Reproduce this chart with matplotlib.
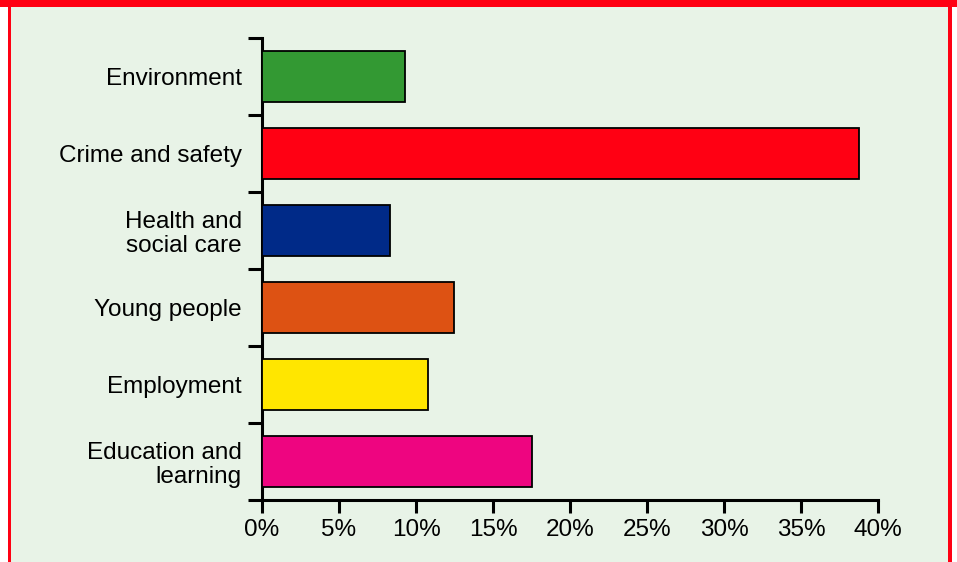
import matplotlib
matplotlib.use("Agg")
import matplotlib.pyplot as plt
from matplotlib.patches import Rectangle
from matplotlib.font_manager import FontProperties

categories = ["Environment", "Crime and safety", "Health and\nsocial care",
              "Young people", "Employment", "Education and\nlearning"]
values = [9.3, 38.75, 8.3, 12.45, 10.8, 17.55]
colors = ["#339933", "#FF0013", "#002A88", "#DD5213", "#FFE600", "#EE0580"]
xticks = [0, 5, 10, 15, 20, 25, 30, 35, 40]
xticklabels = ["0%", "5%", "10%", "15%", "20%", "25%", "30%", "35%", "40%"]

fp = FontProperties(family=["Liberation Sans", "DejaVu Sans"], size=17.5)

W, H = 957, 562
fig = plt.figure(figsize=(W / 100, H / 100), dpi=100)
fig.patch.set_facecolor("white")

# background panel and red frame
bg = "#E8F3E7"
red = "#FF0013"
fig.patches.append(Rectangle((9 / W, 0), (950 - 9) / W, 1, transform=fig.transFigure,
                             facecolor=bg, edgecolor="none", zorder=-3))
fig.patches.append(Rectangle((0, 1 - 7 / H), 1, 7 / H, transform=fig.transFigure,
                             facecolor=red, edgecolor="none", zorder=-2))
fig.patches.append(Rectangle((8 / W, 0), 3 / W, 1, transform=fig.transFigure,
                             facecolor=red, edgecolor="none", zorder=-2))
fig.patches.append(Rectangle((948 / W, 0), 4 / W, 1, transform=fig.transFigure,
                             facecolor=red, edgecolor="none", zorder=-2))

ax = fig.add_axes([262 / W, (H - 500) / H, 616 / W, 462 / H])
ax.set_facecolor("none")
ax.set_zorder(5)

n = len(categories)
ypos = list(range(n))[::-1]  # first category on top
ax.barh(ypos, values, height=0.67, color=colors, edgecolor="black", linewidth=1.3, zorder=3)
ax.set_xlim(0, 40)
ax.set_ylim(-0.5, n - 0.5)

ax.set_xticks(xticks)
ax.set_xticklabels(xticklabels, fontproperties=fp)
ax.set_yticks(ypos)
ax.set_yticklabels(categories, fontproperties=fp, linespacing=1.1)
ax.set_yticks([i - 0.5 for i in range(n + 1)], minor=True)

ax.tick_params(axis="y", which="major", length=0, pad=14.5)
ax.tick_params(axis="y", which="minor", length=10, width=2.2, direction="out", color="black")
ax.tick_params(axis="x", which="major", length=9, width=2.2, direction="out", pad=5)

for s in ["top", "right"]:
    ax.spines[s].set_visible(False)
for s in ["left", "bottom"]:
    ax.spines[s].set_linewidth(2.2)
    ax.spines[s].set_color("black")

fig.savefig("out.png", dpi=100, facecolor=fig.get_facecolor())
